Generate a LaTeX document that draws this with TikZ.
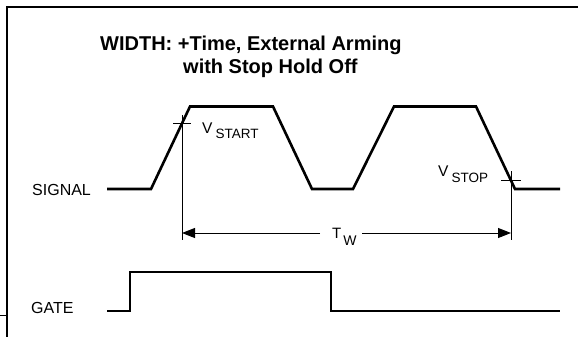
\documentclass[tikz,border=0pt]{standalone}
\usepackage{fontspec}
\setmainfont{Liberation Sans}
\usetikzlibrary{arrows.meta}
\tikzset{
  wave/.style={line width=2.6pt, line join=miter},
  thinline/.style={line width=1pt},
  framel/.style={line width=2pt},
  dimarrow/.style={line width=1pt, -{Triangle[length=13pt,width=10pt]}},
  lbl/.style={anchor=base west, inner sep=0pt, font=\fontsize{16}{18}\selectfont},
  ttl/.style={anchor=base west, inner sep=0pt, font=\fontsize{20}{22}\selectfont\bfseries}
}
\begin{document}
\begin{tikzpicture}[x=1pt,y=-1pt]
\useasboundingbox (0,0) rectangle (578,337);
% frame
\draw[framel] (7,337) -- (7,7) -- (578,7);
\draw[line width=1pt] (0,315) -- (7,315);
% title
\node[ttl] (t1) at (100,51) {WIDTH: +Time, External Arming};
\node[ttl] (t2) at (183,74) {with Stop Hold Off};
% labels
\node[lbl] (siglbl) at (32,195) {SIGNAL};
\node[lbl] (gatelbl) at (31,313) {GATE};
% signal waveform
\coordinate (s0) at (107,189);
\coordinate (s1) at (151,189);
\coordinate (s2) at (190,106.5);
\coordinate (s3) at (273,106.5);
\coordinate (s4) at (312,189);
\coordinate (s5) at (353,189);
\coordinate (s6) at (394,106.5);
\coordinate (s7) at (476,106.5);
\coordinate (s8) at (515,189);
\coordinate (s9) at (560,189);
\draw[wave] (s0) -- (s1) -- (s2) -- (s3) -- (s4) -- (s5) -- (s6) -- (s7) -- (s8) -- (s9);
% gate waveform
\coordinate (g0) at (107,311);
\coordinate (g1) at (130,311);
\coordinate (g2) at (130,272);
\coordinate (g3) at (331,272);
\coordinate (g4) at (331,311);
\coordinate (g5) at (560,311);
\draw[wave] (g0) -- (g1) -- (g2) -- (g3) -- (g4) -- (g5);
% crossing markers and verticals
\coordinate (vs) at (182,123);
\coordinate (vp) at (511,180.5);
\coordinate (vsB) at (182,240);
\coordinate (vpB) at (511,240);
\draw[thinline] (182,115) -- (vsB);
\draw[thinline] (173,123) -- (191,123);
\draw[thinline] (511,171) -- (vpB);
\draw[thinline] (501,180.5) -- (521,180.5);
% V labels
\node[anchor=base west, inner sep=0pt] (vstart) at (202,133)
  {\fontsize{15.5}{16}\selectfont V\kern3pt\raisebox{-5pt}{\fontsize{13.5}{14}\selectfont START}};
\node[anchor=base west, inner sep=0pt] (vstop) at (438,176)
  {\fontsize{15.5}{16}\selectfont V\kern3pt\raisebox{-6pt}{\fontsize{13.5}{14}\selectfont STOP}};
% T_W dimension
\node[anchor=base west, inner sep=0pt] (tw) at (332,238)
  {\fontsize{15}{16}\selectfont T\kern2pt\raisebox{-7pt}{\fontsize{14}{15}\selectfont W}};
\coordinate (aL) at (182,233);
\coordinate (aR) at (511,233);
\coordinate (gL) at (320,233);
\coordinate (gR) at (362,233);
\draw[dimarrow] (gL) -- (aL);
\draw[dimarrow] (gR) -- (aR);
\end{tikzpicture}
\end{document}
